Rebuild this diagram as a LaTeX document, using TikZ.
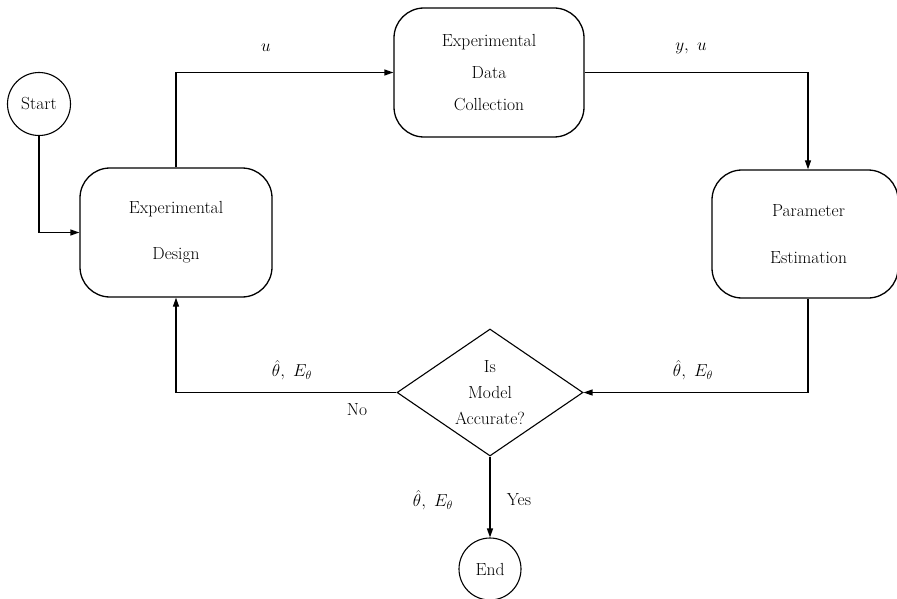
\documentclass[tikz,border=0pt]{standalone}
\usetikzlibrary{shapes.geometric,arrows.meta}
\begin{document}
\begin{tikzpicture}[x=1pt,y=-1pt,
  every node/.style={font=\fontsize{17.5}{21}\selectfont},
  procbox/.style={draw,line width=1.3pt,rounded corners=30pt,inner sep=0pt,align=center},
  termcirc/.style={draw,circle,line width=1.1pt,inner sep=0pt,minimum size=63pt},
  decide/.style={draw,diamond,aspect=1.5,line width=1.1pt,inner sep=0pt,minimum width=186pt,minimum height=127pt,align=center},
  arr/.style={line width=1.3pt,-{Triangle[length=9pt,width=6pt]}},
  lbl/.style={inner sep=0pt}]
\useasboundingbox (0,0) rectangle (897,599);
\node[termcirc] (S) at (39,104) {Start};
\node[procbox,minimum width=192pt,minimum height=129pt] (ED) at (176,232.5) {Experimental\\[25pt]Design};
\node[procbox,minimum width=190pt,minimum height=129pt] (EDC) at (489,72.5) {Experimental\\[11pt]Data\\[11pt]Collection};
\node[procbox,minimum width=186pt,minimum height=128pt] (PE) at (805,234) {\hspace*{7pt}Parameter\\[26pt]\hspace*{7pt}Estimation};
\node[decide] (D) at (490,392.5) {Is\\[5pt]Model\\[5pt]Accurate?};
\node[termcirc,minimum size=62pt] (E) at (490,569) {End};
\draw[arr] (S.south) |- (ED.west);
\draw[arr] (ED.north) |- (EDC.west);
\draw[arr] (EDC.east) -| ([xshift=3pt]PE.north);
\draw[arr] ([xshift=3pt]PE.south) |- (D.east);
\draw[arr] (D.west) -| (ED.south);
\draw[arr] (D.south) -- (E.north);
\node[lbl] (l1) at (266,48) {$u$};
\node[lbl] (l2) at (691,48) {$y,\ u$};
\node[lbl] (l3) at (292,370) {$\hat{\theta},\ E_\theta$};
\node[lbl] (l4) at (693,370) {$\hat{\theta},\ E_\theta$};
\node[lbl] (l5) at (357,410) {No};
\node[lbl] (l6) at (433,500) {$\hat{\theta},\ E_\theta$};
\node[lbl] (l7) at (519,500) {Yes};
\end{tikzpicture}
\end{document}
